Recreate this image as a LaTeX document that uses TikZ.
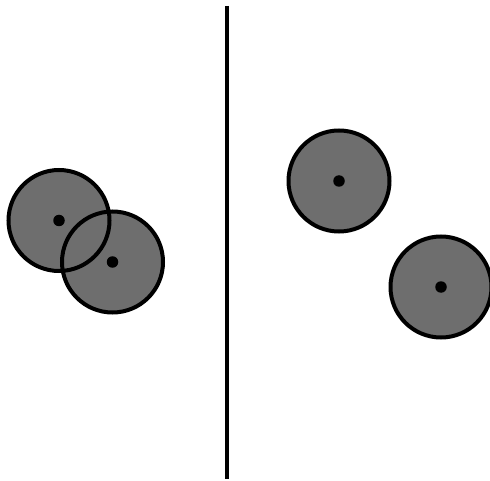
\documentclass[tikz,border=0pt]{standalone}
\definecolor{discgray}{RGB}{110,110,110}
\begin{document}
\begin{tikzpicture}[x=1pt,y=-1pt,
  disc/.style={circle,inner sep=0pt,minimum size=101pt,fill=discgray},
  rim/.style={line width=4pt,draw=black},
  centre/.style={circle,inner sep=0pt,minimum size=11.5pt,fill=black}]
\useasboundingbox (0,0) rectangle (490,481);
\node[disc] (c1) at (59,220.5) {};
\node[disc] (c2) at (112.5,262) {};
\node[disc] (c3) at (339,181) {};
\node[disc] (c4) at (441,287) {};
\foreach \c in {c1,c2,c3,c4}{
  \draw[rim] (\c.center) circle[radius=50.5pt];
  \node[centre] at (\c.center) {};
}
\coordinate (top) at (227,6);
\coordinate (bot) at (227,479);
\draw[line width=4pt] (top) -- (bot);
\end{tikzpicture}
\end{document}
